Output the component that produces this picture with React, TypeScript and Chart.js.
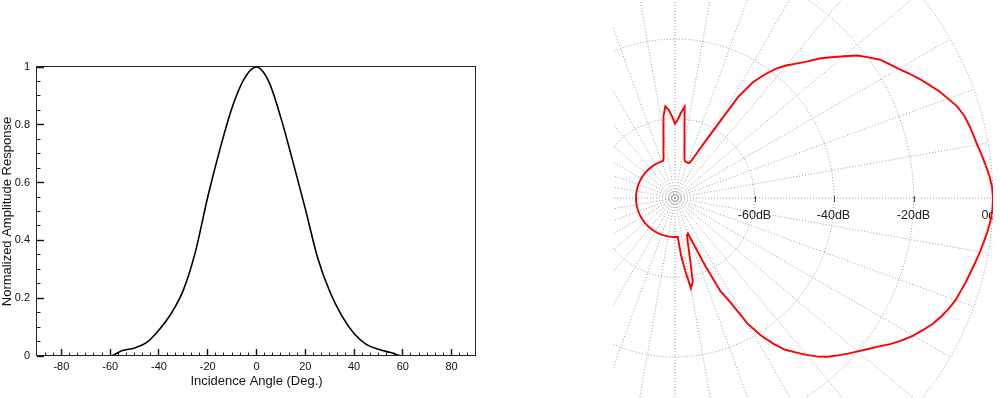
import React, { useEffect, useRef } from "react";
import { Chart, registerables } from "chart.js";

Chart.register(...registerables);

const FONT = '"Liberation Sans", Arial, Helvetica, sans-serif';

// ---------- Left chart: normalized amplitude response ----------
const incidenceAngles = [
  -90, -85, -80, -75, -70, -65, -60, -55, -50, -45, -40, -35, -30, -25, -20, -15, -10, -5,
  0, 5, 10, 15, 20, 25, 30, 35, 40, 45, 50, 55, 60, 65, 70, 75, 80, 85, 90,
];
const amplitudeResponse = [
  0, 0, 0, 0, 0, 0, 0, 0.019, 0.028, 0.047, 0.09, 0.147, 0.228, 0.362, 0.55, 0.715, 0.86, 0.96,
  1.0, 0.95, 0.824, 0.67, 0.51, 0.342, 0.224, 0.139, 0.078, 0.04, 0.023, 0.012, 0, 0, 0, 0, 0, 0, 0,
];
const xMajorTicks = [-80, -60, -40, -20, 0, 20, 40, 60, 80];
const xMinorTicks = [
  -86.67, -83.33, -76.67, -73.33, -70, -66.67, -63.33, -56.67, -53.33, -50, -46.67, -43.33,
  -36.67, -33.33, -30, -26.67, -23.33, -16.67, -13.33, -10, -6.67, -3.33, 3.33, 6.67, 10, 13.33,
  16.67, 23.33, 26.67, 30, 33.33, 36.67, 43.33, 46.67, 50, 53.33, 56.67, 63.33, 66.67, 70, 73.33,
  76.67, 83.33, 86.67,
];
const yMajorTicks = [0, 0.2, 0.4, 0.6, 0.8, 1];
const yMinorTicks = [0.05, 0.1, 0.15, 0.25, 0.3, 0.35, 0.45, 0.5, 0.55, 0.65, 0.7, 0.75, 0.85, 0.9, 0.95];
const xTitle = "Incidence Angle (Deg.)";
const yTitle = "Normalized Amplitude Response";

// ---------- Right chart: polar pattern in dB ----------
// sampled every 2 degrees, going clockwise from 0 deg (3 o'clock)
const mainLobeLower = [
  0, -0.1, -0.4, -0.9, -1.5, -2.1, -2.7, -3.3, -3.8, -4.4,
  -4.9, -5.7, -6.7, -7.8, -9.3, -10.8, -12.5, -14.4, -16.5, -18.3,
  -20.0, -21.5, -23.0, -24.5, -26.3, -28.5, -30.7, -32.8, -35.8, -39.2,
  -43.5, -50.2, -54.0, -61.5, -67.5, -70.5,
];
const lowerSideLobe = [-70.2, -68.3, -64.5, -58.5, -56.9, -61.5, -65.5, -70.2];
const backFloor = [
  -70.2, -70.2, -70.2, -70.2, -70.2, -70.2, -70.2, -70.2, -70.2, -70.2,
  -70.2, -70.2, -70.2, -70.2, -70.2, -70.2, -70.2, -70.2, -70.2, -70.2,
  -70.2, -70.2, -70.2, -70.2, -70.2, -70.2, -70.2, -70.2, -70.2, -70.2,
  -70.2, -70.2, -70.2, -70.2, -70.2, -70.2, -70.2, -70.2, -70.2, -70.2,
  -70.2, -70.2, -70.2, -70.2, -70.2, -70.2, -70.2, -70.2, -70.2, -70.2,
  -70.2, -70.2, -70.2, -70.2, -70.2, -70.2, -70.2, -70.2, -70.2, -70.2,
  -70.2, -70.2, -70.2, -70.2, -70.2, -70.2, -70.2, -70.2, -70.2, -70.2,
  -70.2, -70.2, -70.2, -70.2, -70.2, -70.2, -70.2, -70.2, -70.2, -70.2,
  -70.2, -70.2, -70.2,
];
const upperSideLobes = [
  -69.6, -68.0, -66.1, -63.3, -59.2, -56.8, -57.8, -59.5, -61.3, -60.3,
  -58.5, -56.9, -62.8, -66.2, -68.5, -70.1, -70.5, -70.5, -70.6, -70.5,
];
const mainLobeUpper = [
  -69.6, -67.4, -64.0, -59.2, -50.0, -44.8, -41.6, -38.7, -36.5, -34.5,
  -32.3, -29.5, -27.1, -24.5, -21.8, -19.8, -17.8, -16.4, -15.0, -13.3,
  -11.6, -10.0, -8.3, -6.9, -5.4, -4.4, -3.8, -3.3, -2.8, -2.1,
  -1.4, -0.7, -0.2,
];
const patternDb = [...mainLobeLower, ...lowerSideLobe, ...backFloor, ...upperSideLobes, ...mainLobeUpper];
const polarAngleLabels = patternDb.map((_, k) => `${-2 * k}°`);
const polarRingDb = [-80, -79.3, -78.6, -60, -40, -20, 0];
const polarTickDb = [-60, -40, -20, 0];
const polarTickLabels = ["-60dB", "-40dB", "-20dB", "0dB"];

const framePlugin = {
  id: "frame",
  afterDraw(chart: any) {
    const { ctx, chartArea } = chart;
    ctx.save();
    ctx.strokeStyle = "#222";
    ctx.lineWidth = 1;
    ctx.strokeRect(chartArea.left - 0.5, chartArea.top - 0.5, chartArea.right - chartArea.left, chartArea.bottom - chartArea.top);
    ctx.restore();
  },
};

function AmplitudeChart() {
  const ref = useRef<HTMLCanvasElement>(null);
  useEffect(() => {
    const tickFont = { family: FONT, size: 11 };
    const titleFont = { family: FONT, size: 13, lineHeight: 1.1 };
    const chart = new Chart(ref.current as HTMLCanvasElement, {
      type: "line",
      data: {
        datasets: [
          {
            data: incidenceAngles.map((a, i) => ({ x: a, y: amplitudeResponse[i] })),
            borderColor: "#000",
            borderWidth: 1.6,
            pointRadius: 0,
            fill: false,
            cubicInterpolationMode: "monotone",
            xAxisID: "x",
            yAxisID: "y",
          },
        ],
      },
      options: {
        animation: false,
        responsive: false,
        maintainAspectRatio: false,
        layout: { padding: { top: 67, right: 14, bottom: 0, left: 0 } },
        plugins: { legend: { display: false }, tooltip: { enabled: false } },
        scales: {
          x: {
            type: "linear",
            position: "bottom",
            min: -90,
            max: 90,
            weight: 1,
            afterBuildTicks: (s: any) => {
              s.ticks = xMajorTicks.map((v) => ({ value: v }));
            },
            afterFit: (s: any) => {
              s.height = 42;
            },
            grid: { display: true, drawOnChartArea: false, drawTicks: true, tickLength: -7, tickWidth: 1.4, tickColor: "#111" },
            border: { display: false },
            ticks: { padding: 11, font: tickFont, color: "#111", maxRotation: 0, autoSkip: false, callback: (v: any) => String(v) },
            title: { display: true, text: xTitle, font: titleFont, color: "#111", padding: { top: 0, bottom: 9 } },
          },
          xMinor: {
            type: "linear",
            position: "bottom",
            min: -90,
            max: 90,
            weight: 0,
            afterBuildTicks: (s: any) => {
              s.ticks = xMinorTicks.map((v) => ({ value: v }));
            },
            afterFit: (s: any) => {
              s.height = 0;
            },
            grid: { display: true, drawOnChartArea: false, drawTicks: true, tickLength: -3.5, tickWidth: 1, tickColor: "#222" },
            border: { display: false },
            ticks: { display: false },
          },
          y: {
            type: "linear",
            position: "left",
            min: 0,
            max: 1,
            weight: 1,
            afterBuildTicks: (s: any) => {
              s.ticks = yMajorTicks.map((v) => ({ value: v }));
            },
            afterFit: (s: any) => {
              s.width = 37;
            },
            grid: { display: true, drawOnChartArea: false, drawTicks: true, tickLength: -7, tickWidth: 1.4, tickColor: "#111" },
            border: { display: false },
            ticks: { padding: 14, font: tickFont, color: "#111", autoSkip: false, callback: (v: any) => String(Math.round(v * 10) / 10) },
            title: { display: true, text: yTitle, font: titleFont, color: "#111", padding: { top: 0, bottom: 0 } },
          },
          yMinor: {
            type: "linear",
            position: "left",
            min: 0,
            max: 1,
            weight: 0,
            afterBuildTicks: (s: any) => {
              s.ticks = yMinorTicks.map((v) => ({ value: v }));
            },
            afterFit: (s: any) => {
              s.width = 0;
            },
            grid: { display: true, drawOnChartArea: false, drawTicks: true, tickLength: -3.5, tickWidth: 1, tickColor: "#222" },
            border: { display: false },
            ticks: { display: false },
          },
        },
      } as any,
      plugins: [framePlugin],
    } as any);
    return () => chart.destroy();
  }, []);
  return (
    <canvas
      ref={ref}
      width={490}
      height={398}
      style={{ position: "absolute", left: 0, top: 0, width: 490, height: 398 }}
    />
  );
}

const polarLabelPlugin = {
  id: "polarLabels",
  beforeDatasetsDraw(chart: any) {
    const s = chart.scales.r;
    const ctx = chart.ctx;
    ctx.save();
    ctx.strokeStyle = "#444";
    ctx.lineWidth = 1;
    ctx.fillStyle = "#222";
    ctx.font = `12.5px ${FONT}`;
    ctx.textAlign = "center";
    ctx.textBaseline = "middle";
    polarTickDb.forEach((v, i) => {
      const x = Math.round(s.xCenter + s.getDistanceFromCenterForValue(v)) + 0.5;
      ctx.beginPath();
      ctx.moveTo(x, s.yCenter - 2);
      ctx.lineTo(x, s.yCenter + 4);
      ctx.stroke();
      ctx.fillText(polarTickLabels[i], x - 1, s.yCenter + 18);
    });
    ctx.restore();
  },
};

function PolarChart() {
  const ref = useRef<HTMLCanvasElement>(null);
  useEffect(() => {
    const gridColor = "#9c9c9c";
    const chart = new Chart(ref.current as HTMLCanvasElement, {
      type: "radar",
      data: {
        labels: polarAngleLabels,
        datasets: [
          {
            data: patternDb,
            borderColor: "#ff0000",
            borderWidth: 1.9,
            pointRadius: 0,
            fill: false,
            tension: 0,
          },
        ],
      },
      options: {
        animation: false,
        responsive: false,
        maintainAspectRatio: false,
        layout: { padding: 0 },
        plugins: { legend: { display: false }, tooltip: { enabled: false } },
        scales: {
          r: {
            min: -80,
            max: 0,
            startAngle: 90,
            afterBuildTicks: (s: any) => {
              s.ticks = polarRingDb.map((v) => ({ value: v }));
            },
            ticks: { display: false },
            pointLabels: { display: false },
            grid: { color: gridColor, lineWidth: 1, circular: false },
            border: { dash: [1, 2] },
            angleLines: {
              display: true,
              color: gridColor,
              lineWidth: (c: any) => (c.index % 5 === 0 ? 1 : 0),
              borderDash: [1, 2],
            },
          },
        },
      } as any,
      plugins: [polarLabelPlugin],
    } as any);
    return () => chart.destroy();
  }, []);
  return (
    <div style={{ position: "absolute", left: 613, top: 0, width: 387, height: 398, overflow: "hidden" }}>
      <canvas
        ref={ref}
        width={636}
        height={636}
        style={{ position: "absolute", left: 357 - 613, top: -120, width: 636, height: 636 }}
      />
    </div>
  );
}

export default function App() {
  return (
    <div style={{ position: "absolute", left: 0, top: 0, width: 1000, height: 398, background: "#fff", overflow: "hidden" }}>
      <AmplitudeChart />
      <PolarChart />
    </div>
  );
}
